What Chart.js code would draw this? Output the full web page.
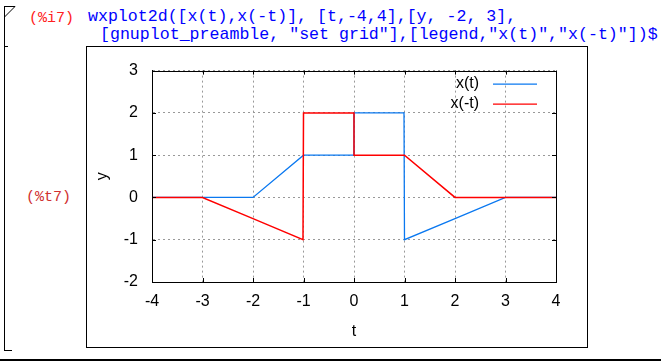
<html>
<head>
<title>wxplot2d x(t), x(-t)</title>
<script src="https://cdn.jsdelivr.net/npm/chart.js@4.4.0/dist/chart.umd.min.js"></script>
<style>
body { margin: 0; background: white; width: 661px; height: 364px; position: relative; overflow: hidden; }
.code { position: absolute; font-family: "Liberation Mono", monospace; white-space: pre; }
.inp { color: #ff2020; font-size: 15px; line-height: 18px; }
.src { color: #0000ff; font-size: 16.6px; line-height: 18px; }
.out { color: #d03030; font-size: 15px; line-height: 18px; }
.bracket { position: absolute; background: black; }
.plotBox { position: absolute; left: 86px; top: 46px; width: 500px; height: 300px; border: 1px solid black; background: white; }
</style>
</head>
<body>
<div class="bracket" style="left:4px; top:6px; width:1px; height:345px;"></div>
<div class="bracket" style="left:4px; top:6px; width:11px; height:1px;"></div>
<div class="bracket" style="left:4px; top:46px; width:4px; height:1px;"></div>
<div class="bracket" style="left:4px; top:350px; width:8px; height:1px;"></div>
<svg style="position:absolute; left:0; top:0;" width="20" height="20"><line x1="15" y1="6.5" x2="4.5" y2="17" stroke="black" stroke-width="1"/></svg>
<div class="bracket" style="left:0; top:359px; width:661px; height:2px;"></div>

<div class="code inp" style="left:29px; top:10px;">(%i7)</div>
<div class="code src" style="left:88px; top:8px;">wxplot2d([x(t),x(-t)], [t,-4,4],[y, -2, 3],</div>
<div class="code src" style="left:100px; top:26px;">[gnuplot_preamble, "set grid"],[legend,"x(t)","x(-t)"])$</div>
<div class="code out" style="left:26px; top:189px;">(%t7)</div>

<div class="plotBox">
	<canvas id="myChart" width="500" height="300"></canvas>
</div>

<script>
// x(t) and x(-t)
const xt_t = [-4, -3, -2, -1, 0, 0, 0.99, 1, 2, 3, 4];
const xt_y = [0, 0, 0, 1, 1, 2, 2, -1, -0.5, 0, 0];
const xmt_t = [-4, -3, -2, -1.01, -1, 0, 0, 1, 2, 3, 4];
const xmt_y = [0, 0, -0.5, -1, 2, 2, 1, 1, 0, 0, 0];
const legendNames = ['x(t)', 'x(-t)'];
const xTicks = [-4, -3, -2, -1, 0, 1, 2, 3, 4];
const yTicks = [-2, -1, 0, 1, 2, 3];

const blue = '#0a78f0';
const red = '#ff0000';

function pts(ts, ys) {
    const out = [];
    for (i = 0; i < ts.length; i++) {
        out.push({x: ts[i], y: ys[i]});
    }
    return out;
}

// gnuplot style frame, inward ticks and key
const gnuplotBits = {
    id: 'gnuplotBits',
    afterDraw(chart) {
        const ctx = chart.ctx;
        const a = chart.chartArea;
        const xs = chart.scales.x, ys = chart.scales.y;
        ctx.save();
        ctx.strokeStyle = 'black';
        ctx.lineWidth = 1;
        ctx.beginPath();
        xTicks.forEach(v => {
            const px = Math.round(xs.getPixelForValue(v)) + 0.5;
            ctx.moveTo(px, a.bottom); ctx.lineTo(px, a.bottom - 4);
            ctx.moveTo(px, a.top); ctx.lineTo(px, a.top + 4);
        });
        yTicks.forEach(v => {
            const py = Math.round(ys.getPixelForValue(v)) + 0.5;
            ctx.moveTo(a.left, py); ctx.lineTo(a.left + 4, py);
            ctx.moveTo(a.right, py); ctx.lineTo(a.right - 4, py);
        });
        ctx.stroke();
        ctx.strokeRect(Math.round(a.left) + 0.5, Math.round(a.top) + 0.5,
            Math.round(a.right - a.left), Math.round(a.bottom - a.top));

        // key
        ctx.font = '16px "Liberation Sans", Arial, sans-serif';
        ctx.textAlign = 'right';
        ctx.textBaseline = 'middle';
        const cols = [blue, red];
        legendNames.forEach((name, k) => {
            const y = a.top + 13 + k * 20;
            ctx.fillStyle = 'black';
            ctx.fillText(name, a.right - 77, y);
            ctx.strokeStyle = cols[k];
            ctx.lineWidth = 1.4;
            ctx.beginPath();
            ctx.moveTo(a.right - 63, y + 0.5);
            ctx.lineTo(a.right - 19, y + 0.5);
            ctx.stroke();
        });
        ctx.restore();
    }
};

const data = {
    datasets: [{
        label: legendNames[0],
        data: pts(xt_t, xt_y),
        borderColor: blue,
        borderWidth: 1.3,
        pointRadius: 0,
        fill: false,
        tension: 0,
        order: 1
    }, {
        label: legendNames[1],
        data: pts(xmt_t, xmt_y),
        borderColor: red,
        borderWidth: 1.5,
        pointRadius: 0,
        fill: false,
        tension: 0,
        order: 0
    }]
};

const tickFont = {family: '"Liberation Sans", Arial, sans-serif', size: 16};

const config = {
    type: 'line',
    data,
    options: {
        responsive: false,
        animation: false,
        layout: {padding: {top: 20, right: 31, left: 0, bottom: 0}},
        plugins: {legend: {display: false}, tooltip: {enabled: false}},
        scales: {
            x: {
                type: 'linear',
                min: -4, max: 4,
                afterFit: (s) => { s.height = 65; },
                afterBuildTicks: (s) => { s.ticks = xTicks.map(v => ({value: v})); },
                ticks: {color: 'black', font: tickFont, padding: 10, maxRotation: 0},
                grid: {color: '#999999', drawTicks: false, lineWidth: 1},
                border: {display: true, color: 'black', dash: [2, 3]},
                title: {display: true, text: 't', color: 'black', font: tickFont, padding: {top: 0, bottom: 6}}
            },
            y: {
                min: -2, max: 3,
                afterFit: (s) => { s.width = 65; },
                afterBuildTicks: (s) => { s.ticks = yTicks.map(v => ({value: v})); },
                ticks: {color: 'black', font: tickFont, padding: 14},
                grid: {color: '#999999', drawTicks: false, lineWidth: 1},
                border: {display: true, color: 'black', dash: [2, 3]},
                title: {display: true, text: 'y', color: 'black', font: tickFont, padding: {top: 6, bottom: 0}}
            }
        }
    },
    plugins: [gnuplotBits]
};

const myChart = new Chart(document.getElementById('myChart'), config);
</script>
</body></html>
